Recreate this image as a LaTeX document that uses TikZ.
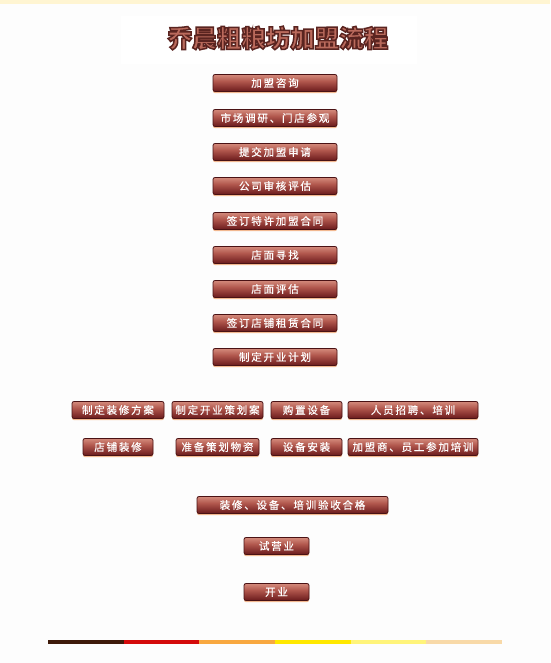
\documentclass[tikz,border=0pt]{standalone}
\usepackage{fontspec}
\newfontfamily\cjk{Noto Sans CJK SC}
\newfontfamily\cjkbtn[LetterSpace=17,FakeBold=0.4]{Noto Sans CJK SC}
\newfontfamily\cjktitle{Noto Sans CJK SC}
\definecolor{bg}{HTML}{FDFDFD}
\definecolor{strip}{HTML}{FFF5D2}
\definecolor{btnlight}{HTML}{E6A493}
\definecolor{btnmid}{HTML}{B0564C}
\definecolor{btndark}{HTML}{6A1A1C}
\definecolor{btnborder}{HTML}{4A1214}
\definecolor{btnshadow}{HTML}{F2B890}
\definecolor{titlefill}{HTML}{BA6A5C}
\definecolor{barA}{HTML}{3E1A0A}
\definecolor{barB}{HTML}{D40A0A}
\definecolor{barC}{HTML}{F8A840}
\definecolor{barD}{HTML}{FFE800}
\definecolor{barE}{HTML}{FFF47A}
\definecolor{barF}{HTML}{F8D9A8}
\pgfdeclareverticalshading{btnshade}{100bp}{color(0bp)=(btndark); color(25bp)=(btndark); color(55bp)=(btnmid); color(85bp)=(btnlight); color(100bp)=(btnlight)}
\tikzset{
  btn/.style={draw=btnborder, line width=0.8pt, rounded corners=2pt, shading=btnshade,
    minimum height=17pt, inner sep=0pt, text=white, font=\cjkbtn\fontsize{10.5}{12}\selectfont,
    preaction={fill=btnshadow, transform canvas={yshift=-1.6pt}}},
  titletext/.style={font=\cjktitle\bfseries\fontsize{24.5}{28}\selectfont, inner sep=0pt}
}
\begin{document}
\begin{tikzpicture}[x=1pt,y=-1pt]
\useasboundingbox (0,0) rectangle (550,663);
\fill[bg] (0,0) rectangle (550,663);
\fill[strip] (0,0) rectangle (550,4);
\fill[white] (121,16) rectangle (417,64);
\node[titletext, text=titlefill] (title) at (278,38) {\special{pdf:literal direct 2 Tr 1.5 w 0.353 0.141 0.125 RG}乔晨粗粮坊加盟流程\special{pdf:literal direct 0 Tr}};
% main column
\node[btn, minimum width=124pt] (s1) at (275,83) {加盟咨询};
\node[btn, minimum width=124pt] (s2) at (275,118) {市场调研、门店参观};
\node[btn, minimum width=124pt] (s3) at (275,152) {提交加盟申请};
\node[btn, minimum width=124pt] (s4) at (275,186) {公司审核评估};
\node[btn, minimum width=124pt] (s5) at (275,221) {签订特许加盟合同};
\node[btn, minimum width=124pt] (s6) at (275,255) {店面寻找};
\node[btn, minimum width=124pt] (s7) at (275,289) {店面评估};
\node[btn, minimum width=124pt] (s8) at (275,323) {签订店铺租赁合同};
\node[btn, minimum width=124pt] (s9) at (275,357) {制定开业计划};
% row 1
\node[btn, minimum width=92pt] (r1a) at (118,410) {制定装修方案};
\node[btn, minimum width=91pt] (r1b) at (217.5,410) {制定开业策划案};
\node[btn, minimum width=71pt] (r1c) at (306.5,410) {购置设备};
\node[btn, minimum width=130pt] (r1d) at (413,410) {人员招聘、培训};
% row 2
\node[btn, minimum width=70pt] (r2a) at (118,447) {店铺装修};
\node[btn, minimum width=83pt] (r2b) at (217.5,447) {准备策划物资};
\node[btn, minimum width=71pt] (r2c) at (306.5,447) {设备安装};
\node[btn, minimum width=130pt] (r2d) at (413,447) {加盟商、员工参加培训};
% bottom
\node[btn, minimum width=191pt] (b1) at (292.5,505) {装修、设备、培训验收合格};
\node[btn, minimum width=65pt] (b2) at (276.5,546) {试营业};
\node[btn, minimum width=65pt] (b3) at (276.5,592) {开业};
% colour bar
\fill[barA] (48,640) rectangle (124,643.5);
\fill[barB] (124,640) rectangle (199,643.5);
\fill[barC] (199,640) rectangle (275,643.5);
\fill[barD] (275,640) rectangle (351,643.5);
\fill[barE] (351,640) rectangle (426,643.5);
\fill[barF] (426,640) rectangle (502,643.5);
\end{tikzpicture}
\end{document}
